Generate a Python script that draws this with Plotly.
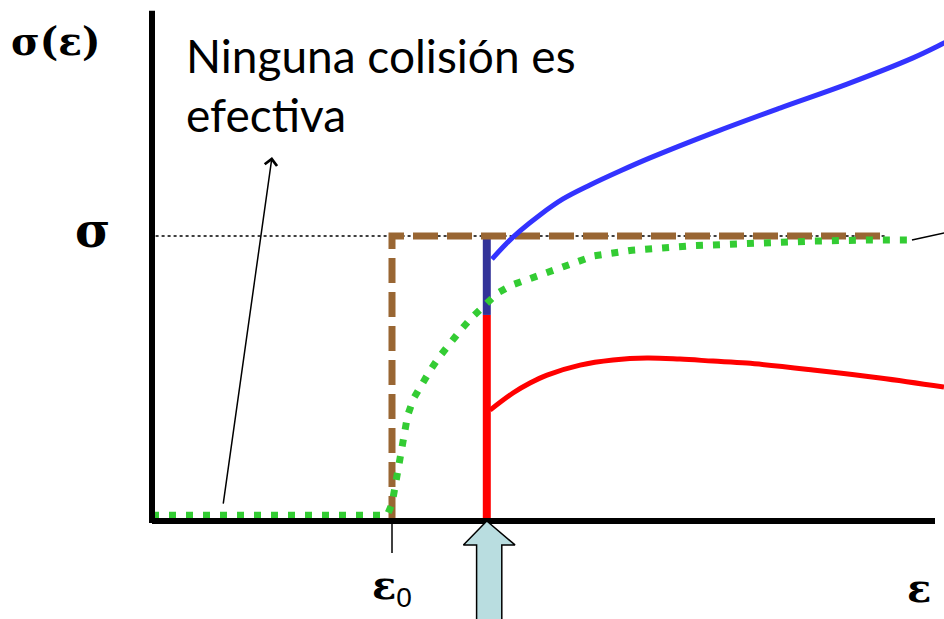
import plotly.graph_objects as go

# Energy axis in arbitrary units (threshold energy eps0 = 2.0), cross section in units of sigma
EPS0 = 2.0
EPS_REACT = 2.79

# Hard-sphere model: step at eps0
hs_x = [EPS0, EPS0, 6.11]
hs_y = [0.0, 1.0, 1.0]

# Line-of-centers model (smooth rise from eps0)
loc_x = [0.0, 1.96, 2.0, 2.03, 2.06, 2.09, 2.13, 2.18, 2.25, 2.32, 2.40, 2.48, 2.58, 2.67,
         2.78, 2.88, 3.0, 3.13, 3.26, 3.40, 3.54, 3.68, 4.0, 4.5, 5.0, 5.5, 6.0, 6.32]
loc_y = [0.02, 0.02, 0.06, 0.14, 0.22, 0.30, 0.37, 0.43, 0.484, 0.53, 0.579, 0.625, 0.674, 0.716,
         0.761, 0.80, 0.828, 0.849, 0.87, 0.891, 0.909, 0.93, 0.95, 0.966, 0.976, 0.982, 0.986, 0.986]

# Upper (blue) and lower (red) experimental branches starting at the reaction threshold
blue_x = [2.833, 2.95, 3.067, 3.233, 3.425, 3.65, 3.9, 4.15, 4.675, 5.233, 5.792, 6.342, 6.6, 6.733]
blue_y = [0.919, 0.972, 1.018, 1.074, 1.13, 1.179, 1.228, 1.274, 1.362, 1.449, 1.533, 1.625,
          1.677, 1.705]
red_x = [2.817, 3.008, 3.15, 3.292, 3.567, 3.842, 4.125, 4.4, 4.675, 4.958, 5.508, 6.067, 6.6]
red_y = [0.389, 0.449, 0.484, 0.512, 0.547, 0.565, 0.572, 0.568, 0.561, 0.554, 0.530, 0.502, 0.470]

# Vertical jump at the threshold: navy upper part, red lower part
jump_split = 0.723

X_RANGE = [-1.2667, 6.6]
Y_RANGE = [-0.3439, 1.8281]

fig = go.Figure()

# sigma reference level (thin dotted)
fig.add_trace(go.Scatter(x=[0.03, 6.11], y=[1.0, 1.0], mode="lines",
                         line=dict(color="black", width=1.5, dash="dot")))

# red and navy vertical segments
fig.add_trace(go.Scatter(x=[EPS_REACT, EPS_REACT], y=[0.0, jump_split], mode="lines",
                         line=dict(color="#ff0000", width=8)))
fig.add_trace(go.Scatter(x=[EPS_REACT, EPS_REACT], y=[jump_split, 1.0], mode="lines",
                         line=dict(color="#333399", width=8)))

# hard-sphere step
fig.add_trace(go.Scatter(x=hs_x, y=hs_y, mode="lines",
                         line=dict(color="#996633", width=7, dash="25px,9px")))

# line-of-centers curve
fig.add_trace(go.Scatter(x=loc_x, y=loc_y, mode="lines",
                         line=dict(color="#33cc33", width=7, dash="7px,10px")))

# blue and red branches
fig.add_trace(go.Scatter(x=blue_x, y=blue_y, mode="lines", line_shape="spline",
                         line=dict(color="#3333ff", width=5, smoothing=1.0)))
fig.add_trace(go.Scatter(x=red_x, y=red_y, mode="lines", line_shape="spline",
                         line=dict(color="#ff0000", width=5, smoothing=1.0)))

# axes
fig.add_trace(go.Scatter(x=[0.0, 0.0], y=[-0.007, 1.79], mode="lines",
                         line=dict(color="black", width=6)))
fig.add_trace(go.Scatter(x=[0.0, 6.525], y=[0.0, 0.0], mode="lines",
                         line=dict(color="black", width=6)))

# eps0 tick
fig.add_trace(go.Scatter(x=[EPS0, EPS0], y=[-0.01, -0.112], mode="lines",
                         line=dict(color="black", width=1.5)))

# leader line toward the right margin
fig.add_trace(go.Scatter(x=[6.333, 6.7], y=[0.986, 1.02], mode="lines",
                         line=dict(color="black", width=1.5)))

# threshold marker (block arrow pointing up)
arr_x = [EPS_REACT, 3.025, 2.915, 2.915, 2.705, 2.705, 2.595, EPS_REACT]
arr_y = [0.0, -0.084, -0.084, -0.40, -0.40, -0.084, -0.084, 0.0]
fig.add_trace(go.Scatter(x=arr_x, y=arr_y, mode="lines", fill="toself",
                         fillcolor="#b9dde0", line=dict(color="black", width=1.5)))

serif = "DejaVu Serif"
sans = "Lato"

fig.add_annotation(x=-0.808, y=1.685, text="<b>σ(ε)</b>", showarrow=False,
                   font=dict(family=serif, size=39, color="black"))
fig.add_annotation(x=-0.5, y=1.02, text="<b>σ</b>", showarrow=False,
                   font=dict(family=serif, size=48, color="black"))
fig.add_annotation(x=2.0, y=-0.23,
                   text="<b>ε</b><sub><span style='font-family:Liberation Sans'>0</span></sub>",
                   showarrow=False, font=dict(family=serif, size=40, color="black"))
fig.add_annotation(x=6.39, y=-0.235, text="<b>ε</b>", showarrow=False,
                   font=dict(family=serif, size=40, color="black"))

fig.add_annotation(x=0.27, y=1.633, text="Ninguna colisión es", showarrow=False,
                   xanchor="left", yanchor="middle",
                   font=dict(family=sans, size=46, color="black"))
fig.add_annotation(x=0.27, y=1.425, text="efectiva", showarrow=False,
                   xanchor="left", yanchor="middle",
                   font=dict(family=sans, size=46, color="black"))

# pointer from the flat part of the curve to the note
fig.add_annotation(x=1.0, y=1.277, ax=0.592, ay=0.056, axref="x", ayref="y",
                   xref="x", yref="y", text="", showarrow=True,
                   arrowhead=4, arrowsize=1.6, arrowwidth=1.5, arrowcolor="black")

fig.update_layout(
    width=944, height=619,
    margin=dict(l=0, r=0, t=0, b=0),
    paper_bgcolor="white", plot_bgcolor="white",
    showlegend=False,
    xaxis=dict(range=X_RANGE, visible=False, fixedrange=True),
    yaxis=dict(range=Y_RANGE, visible=False, fixedrange=True),
)

fig.write_html("out.html")
